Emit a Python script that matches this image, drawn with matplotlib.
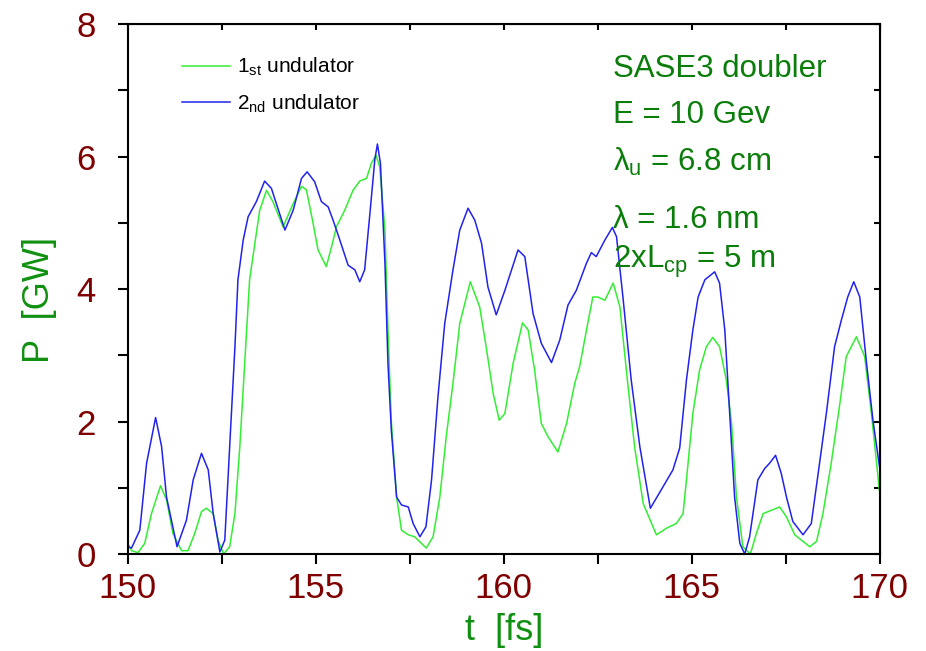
import matplotlib
matplotlib.use("Agg")
import matplotlib.pyplot as plt
from matplotlib.ticker import MultipleLocator

plt.rcParams['font.family'] = ['Liberation Sans', 'DejaVu Sans']
plt.rcParams['mathtext.fontset'] = 'custom'
plt.rcParams['mathtext.rm'] = 'Liberation Sans'
plt.rcParams['mathtext.it'] = 'Liberation Sans:italic'

# power of the first undulator section
t1 = [150.0, 150.1, 150.27, 150.45, 150.63, 150.87, 151.03, 151.2, 151.43, 151.6,
      151.78, 151.96, 152.09, 152.27, 152.4, 152.55, 152.71, 152.85, 152.98, 153.11,
      153.24, 153.38, 153.51, 153.69, 153.86, 154.13, 154.4, 154.62, 154.75, 154.93,
      155.06, 155.28, 155.42, 155.55, 155.77, 155.99, 156.17, 156.35, 156.48, 156.6,
      156.7, 156.84, 156.92, 157.01, 157.15, 157.28, 157.46, 157.63, 157.94, 158.12,
      158.3, 158.47, 158.65, 158.83, 159.11, 159.36, 159.54, 159.72, 159.88, 160.03,
      160.25, 160.5, 160.65, 160.82, 161.0, 161.18, 161.44, 161.67, 161.89, 162.02,
      162.2, 162.37, 162.5, 162.69, 162.91, 163.09, 163.26, 163.48, 163.71, 164.06,
      164.33, 164.59, 164.77, 164.86, 165.03, 165.21, 165.39, 165.56, 165.74, 165.92,
      166.06, 166.19, 166.36, 166.56, 166.72, 166.9, 167.12, 167.34, 167.52, 167.74,
      168.14, 168.32, 168.49, 168.71, 168.94, 169.11, 169.38, 169.6, 169.78, 170.0]
p1 = [0.16, 0.05, 0.02, 0.16, 0.61, 1.03, 0.82, 0.31, 0.05, 0.05,
      0.31, 0.64, 0.69, 0.61, 0.21, 0.0, 0.11, 0.61, 1.62, 2.88,
      4.14, 4.69, 5.19, 5.49, 5.32, 4.94, 5.29, 5.55, 5.5, 4.99,
      4.59, 4.34, 4.64, 4.94, 5.19, 5.49, 5.63, 5.67, 5.9, 6.02,
      5.85, 4.89, 3.4, 2.0, 0.86, 0.36, 0.29, 0.26, 0.09, 0.26,
      0.86, 1.77, 2.58, 3.48, 4.11, 3.73, 3.1, 2.42, 2.02, 2.12,
      2.88, 3.49, 3.38, 2.78, 1.97, 1.77, 1.54, 1.97, 2.58, 2.83,
      3.38, 3.88, 3.88, 3.83, 4.09, 3.73, 2.78, 1.62, 0.76, 0.29,
      0.39, 0.46, 0.61, 1.12, 2.12, 2.78, 3.13, 3.27, 3.13, 2.63,
      1.97, 0.86, 0.11, 0.0, 0.31, 0.61, 0.66, 0.71, 0.56, 0.29,
      0.11, 0.19, 0.61, 1.37, 2.27, 2.98, 3.28, 2.98, 2.12, 0.92]

# power of the second undulator section
t2 = [150.0, 150.1, 150.32, 150.5, 150.74, 150.9, 151.03, 151.31, 151.56, 151.74,
      151.96, 152.14, 152.27, 152.45, 152.58, 152.71, 152.85, 152.93, 153.07, 153.2,
      153.42, 153.64, 153.82, 154.18, 154.4, 154.62, 154.77, 154.97, 155.15, 155.33,
      155.46, 155.64, 155.86, 156.04, 156.17, 156.3, 156.44, 156.57, 156.64, 156.72,
      156.84, 156.92, 157.01, 157.15, 157.28, 157.46, 157.59, 157.77, 157.93, 158.08,
      158.25, 158.43, 158.65, 158.83, 159.05, 159.23, 159.41, 159.58, 159.8, 160.03,
      160.38, 160.56, 160.78, 161.0, 161.27, 161.49, 161.71, 161.93, 162.2, 162.33,
      162.46, 162.69, 162.89, 163.0, 163.17, 163.39, 163.62, 163.9, 164.19, 164.5,
      164.68, 164.86, 165.03, 165.17, 165.35, 165.61, 165.74, 165.88, 166.01, 166.14,
      166.28, 166.41, 166.54, 166.76, 166.94, 167.07, 167.23, 167.38, 167.52, 167.69,
      167.96, 168.18, 168.4, 168.58, 168.8, 168.98, 169.15, 169.31, 169.47, 169.65,
      169.82, 170.0]
p2 = [0.11, 0.09, 0.36, 1.37, 2.06, 1.62, 0.86, 0.11, 0.51, 1.12,
      1.52, 1.27, 0.62, 0.03, 0.21, 1.62, 3.13, 4.14, 4.74, 5.09,
      5.32, 5.63, 5.52, 4.89, 5.19, 5.67, 5.77, 5.62, 5.32, 5.24,
      5.04, 4.74, 4.36, 4.29, 4.11, 4.29, 5.14, 5.95, 6.19, 5.9,
      4.39, 2.88, 1.87, 0.86, 0.74, 0.71, 0.46, 0.26, 0.41, 1.12,
      2.37, 3.48, 4.29, 4.89, 5.22, 5.04, 4.69, 4.03, 3.61, 3.98,
      4.59, 4.49, 3.63, 3.18, 2.89, 3.23, 3.76, 3.98, 4.39, 4.55,
      4.49, 4.74, 4.93, 4.79, 3.88, 2.63, 1.62, 0.69, 0.97, 1.27,
      1.6, 2.63, 3.38, 3.88, 4.14, 4.26, 4.09, 3.38, 2.12, 0.86,
      0.16, 0.0, 0.26, 1.12, 1.29, 1.37, 1.49, 1.22, 0.86, 0.49,
      0.29, 0.46, 1.37, 2.12, 3.13, 3.53, 3.88, 4.11, 3.88, 2.88,
      2.02, 1.3]

info_lines = ["SASE3 doubler", "E = 10 Gev", r"λ$_{\rm u}$ = 6.8 cm",
              "λ = 1.6 nm", r"2xL$_{\rm cp}$ = 5 m"]
info_y = [7.32, 6.63, 5.92, 5.04, 4.41]

tick_red = '#7f0000'
label_green = '#109010'
text_green = '#0a7d0a'

fig = plt.figure(figsize=(9.26, 6.51), dpi=100)
ax = fig.add_axes([0.138, 0.149, 0.812, 0.814])

ax.plot(t1, p1, color='#33ee33', lw=1.1, label=r'1$_{\rm st}$ undulator')
ax.plot(t2, p2, color='#2222ee', lw=1.1, label=r'2$_{\rm nd}$ undulator')

ax.set_xlim(150, 170)
ax.set_ylim(0, 8)
ax.xaxis.set_major_locator(MultipleLocator(5))
ax.xaxis.set_minor_locator(MultipleLocator(2.5))
ax.yaxis.set_major_locator(MultipleLocator(2))
ax.yaxis.set_minor_locator(MultipleLocator(1))
ax.tick_params(which='both', direction='out', length=7, width=1.5,
               labelsize=25, labelcolor=tick_red)
ax.tick_params(axis='x', pad=6)
ax.tick_params(axis='y', pad=16)
for s in ax.spines.values():
    s.set_linewidth(1.5)

# inward ticks along the top and right edges
top = ax.secondary_xaxis('top')
top.xaxis.set_major_locator(MultipleLocator(2.5))
top.tick_params(direction='in', length=4, width=1.5, labeltop=False)
right = ax.secondary_yaxis('right')
right.yaxis.set_major_locator(MultipleLocator(1))
right.tick_params(direction='in', length=4, width=1.5, labelright=False)

ax.set_xlabel('t  [fs]', fontsize=26, color=label_green, labelpad=6)
ax.set_ylabel('P  [GW]', fontsize=26, color=label_green)
ax.yaxis.set_label_coords(-0.094, 0.479)

for txt, yv in zip(info_lines, info_y):
    ax.text(162.9, yv, txt, fontsize=22.5, color=text_green, va='center', ha='left')

leg = ax.legend(loc='upper left', bbox_to_anchor=(0.072, 0.94), frameon=False,
                fontsize=15, handlelength=2.3, handletextpad=0.35,
                labelspacing=0.7, borderpad=0, borderaxespad=0)

fig.savefig('out.png', dpi=100)
